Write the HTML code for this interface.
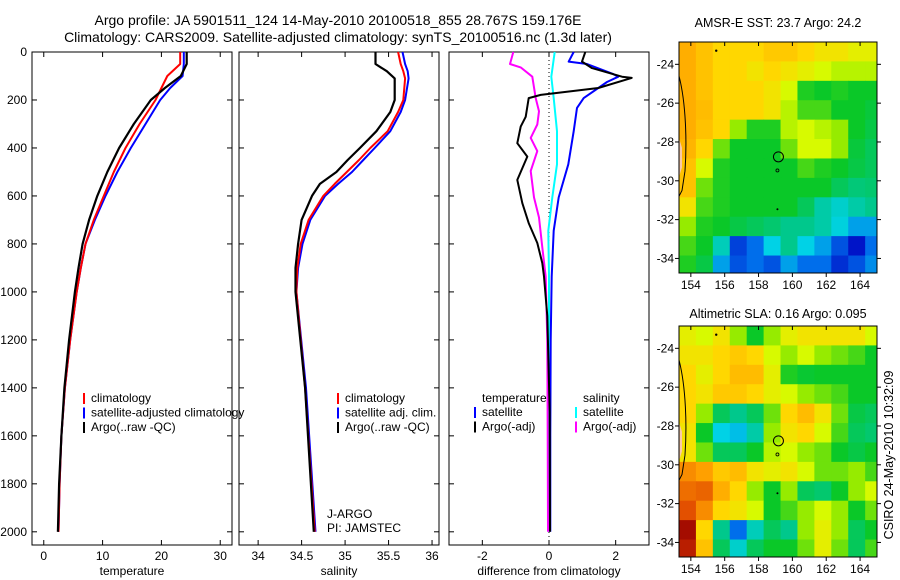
<!DOCTYPE html>
<html><head><meta charset="utf-8"><style>
html,body{margin:0;padding:0;background:#fff;}
svg{display:block;font-family:"Liberation Sans",sans-serif;}
</style></head><body>
<svg id="fig" width="900" height="580" viewBox="0 0 900 580" xmlns="http://www.w3.org/2000/svg">
<text x="338" y="25" font-size="14" text-anchor="middle">Argo profile: JA 5901511_124 14-May-2010 20100518_855 28.767S 159.176E</text>
<text x="338" y="42" font-size="14" text-anchor="middle">Climatology: CARS2009. Satellite-adjusted climatology: synTS_20100516.nc (1.3d later)</text>
<text x="778" y="27" font-size="12.5" text-anchor="middle">AMSR-E SST: 23.7 Argo: 24.2</text>
<text x="778" y="318" font-size="12.5" text-anchor="middle">Altimetric SLA: 0.16 Argo: 0.095</text>
<text transform="translate(893,455) rotate(-90)" font-size="12.5" text-anchor="middle">CSIRO 24-May-2010 10:32:09</text>
<g id="layer"></g>
</svg>
<script>
// ---- profile data (depth in dbar) ----
const tDepth = [0,50,100,150,200,300,400,500,600,700,800,900,1000,1200,1400,1600,1800,2000];
const tClim  = [23.2,23.2,21.0,20.0,19.0,16.3,13.9,11.9,10.2,8.5,7.1,6.3,5.6,4.5,3.6,3.0,2.7,2.5];
const tSat   = [23.8,23.8,23.6,21.5,19.8,17.3,14.8,12.5,10.5,8.7,7.1,6.3,5.6,4.5,3.6,3.0,2.7,2.5];
const tArgo  = [24.3,24.3,23.3,20.6,18.2,15.3,12.8,10.8,9.1,7.7,6.6,5.9,5.3,4.3,3.5,3.0,2.6,2.4];

const sDepth = [0,50,80,110,200,250,330,400,450,500,550,600,700,800,900,1000,1400,2000];
const sClim  = [35.61,35.64,35.67,35.69,35.67,35.61,35.49,35.29,35.16,35.02,34.88,34.75,34.58,34.49,34.45,34.44,34.54,34.65];
const sSat   = [35.66,35.69,35.72,35.73,35.69,35.64,35.52,35.34,35.21,35.08,34.92,34.77,34.60,34.51,34.46,34.44,34.55,34.66];
const sArgo  = [35.35,35.35,35.48,35.57,35.57,35.52,35.36,35.17,35.03,34.90,34.71,34.62,34.50,34.46,34.43,34.43,34.54,34.64];

const dTDepthA = [0,40,67,103,108,150,179,192,270,311,380,436,533,630,713,796,880,936,1100,1500,2000];
const dTArgo   = [1.09,0.99,1.29,2.19,2.48,1.48,-0.25,-0.61,-0.70,-0.85,-0.95,-0.65,-0.95,-0.80,-0.61,-0.35,-0.20,-0.15,-0.05,0.02,0.03];
const dTDepthS = [0,40,50,92,103,125,192,233,330,468,606,745,936,1200,1600,2000];
const dTSat    = [0.74,0.59,1.14,1.93,2.08,1.74,1.04,0.84,0.74,0.58,0.29,0.14,0.08,0.05,0.04,0.04];
const dSDepthA = [0,50,64,103,192,247,302,358,413,496,606,690,814,936,1200,1600,2000];
const dSArgo   = [-1.07,-1.17,-0.85,-0.50,-0.40,-0.30,-0.35,-0.55,-0.35,-0.55,-0.45,-0.30,-0.20,-0.10,-0.05,-0.04,-0.03];
const dSDepthS = [0,103,192,330,468,606,745,936,1200,2000];
const dSSat    = [0.17,0.07,0.14,0.24,0.24,0.10,-0.02,0.0,0.0,-0.01];

const depthTicks = [0,200,400,600,800,1000,1200,1400,1600,1800,2000];
const tTicks = [0,10,20,30];
const sTicks = [34,34.5,35,35.5,36];
const dTicks = [-2,0,2];

// ---- map data (colour-scale fraction 0..1), 1-degree cells, rows from north ----
const mapLonStart = 153.3;
const mapLatStart = -22.85;
const lonTicks = [154,156,158,160,162,164];
const latTicks = [-24,-26,-28,-30,-32,-34];
const sstGrid = [
[0.78,0.75,0.72,0.72,0.72,0.74,0.74,0.72,0.70,0.70,0.68,0.68],
[0.78,0.75,0.72,0.72,0.70,0.72,0.70,0.68,0.66,0.64,0.64,0.64],
[0.78,0.75,0.72,0.72,0.72,0.70,0.66,0.56,0.55,0.56,0.55,0.55],
[0.78,0.76,0.72,0.72,0.72,0.70,0.64,0.58,0.58,0.55,0.55,0.53],
[0.78,0.75,0.72,0.62,0.56,0.56,0.64,0.66,0.64,0.62,0.55,0.52],
[0.77,0.72,0.60,0.55,0.55,0.55,0.60,0.66,0.66,0.62,0.53,0.50],
[0.75,0.66,0.56,0.55,0.55,0.55,0.55,0.58,0.56,0.55,0.52,0.50],
[0.75,0.60,0.56,0.55,0.55,0.55,0.55,0.55,0.55,0.50,0.47,0.48],
[0.70,0.58,0.56,0.55,0.55,0.55,0.55,0.50,0.42,0.38,0.42,0.45],
[0.62,0.56,0.55,0.52,0.50,0.48,0.45,0.45,0.42,0.36,0.30,0.30],
[0.58,0.55,0.40,0.20,0.25,0.35,0.45,0.35,0.30,0.22,0.15,0.25],
[0.56,0.52,0.30,0.22,0.25,0.22,0.30,0.25,0.25,0.18,0.22,0.28]];
const slaGrid = [
[0.68,0.66,0.70,0.62,0.55,0.62,0.68,0.70,0.70,0.70,0.70,0.66],
[0.70,0.70,0.72,0.74,0.72,0.66,0.62,0.66,0.62,0.60,0.58,0.55],
[0.72,0.68,0.72,0.76,0.76,0.68,0.56,0.54,0.55,0.55,0.55,0.55],
[0.72,0.70,0.74,0.74,0.72,0.68,0.66,0.62,0.60,0.58,0.55,0.55],
[0.72,0.62,0.50,0.45,0.50,0.60,0.72,0.76,0.70,0.60,0.52,0.50],
[0.70,0.55,0.35,0.33,0.42,0.62,0.70,0.72,0.66,0.58,0.50,0.48],
[0.70,0.60,0.50,0.50,0.55,0.64,0.66,0.62,0.60,0.55,0.52,0.55],
[0.82,0.80,0.74,0.76,0.70,0.68,0.70,0.66,0.60,0.60,0.62,0.58],
[0.85,0.86,0.78,0.72,0.62,0.55,0.62,0.50,0.48,0.55,0.62,0.66],
[0.88,0.82,0.72,0.70,0.66,0.55,0.58,0.62,0.66,0.62,0.55,0.60],
[0.98,0.72,0.45,0.25,0.40,0.50,0.45,0.62,0.68,0.62,0.50,0.55],
[0.95,0.75,0.50,0.38,0.50,0.55,0.55,0.60,0.68,0.60,0.50,0.58]];
const argoLon = 159.176, argoLat = -28.767;

const NS="http://www.w3.org/2000/svg";
const layer=document.getElementById('layer');
function mk(tag,attrs,parent){const e=document.createElementNS(NS,tag);for(const k in attrs)e.setAttribute(k,attrs[k]);(parent||layer).appendChild(e);return e;}

const PT=52, PB=545;
const yD = d => PT + d*(PB-PT)/2055;

function panel(name,x0,x1,vmin,vmax,ticks,label,showY){
  const g=mk('g',{});
  
  
  const sx=v=>x0+(v-vmin)*(x1-x0)/(vmax-vmin);
  const box=mk('rect',{x:x0,y:PT,width:x1-x0,height:PB-PT,fill:'none',stroke:'#000','stroke-width':1},g);
  
  
  depthTicks.forEach(d=>{
    const y=yD(d);
    mk('line',{x1:x0,x2:x0+5,y1:y,y2:y,stroke:'#000'},g);
    mk('line',{x1:x1,x2:x1-5,y1:y,y2:y,stroke:'#000'},g);
    if(showY){const t=mk('text',{x:x0-5,y:y+4,'font-size':12,'text-anchor':'end'},g);t.textContent=d;
      
      }
  });
  ticks.forEach(v=>{
    const x=sx(v);
    mk('line',{x1:x,x2:x,y1:PB,y2:PB-5,stroke:'#000'},g);
    mk('line',{x1:x,x2:x,y1:PT,y2:PT+5,stroke:'#000'},g);
    const t=mk('text',{x:x,y:PB+15,'font-size':12,'text-anchor':'middle'},g);t.textContent=v;
    
    
  });
  const lt=mk('text',{x:(x0+x1)/2,y:PB+30,'font-size':12,'text-anchor':'middle'},g);lt.textContent=label;
  
  
  return {g,sx};
}
function line(p,depths,vals,color,w,name){
  const pts=depths.map((d,i)=>p.sx(vals[i]).toFixed(1)+','+yD(d).toFixed(1)).join(' ');
  const pl=mk('polyline',{points:pts,fill:'none',stroke:color,'stroke-width':w,'stroke-linejoin':'round'},p.g);
  
  
}
function legend(p,x,y,items){
  items.forEach((it,i)=>{
    const yy=y+i*14.5;
    mk('line',{x1:x,x2:x,y1:yy-9,y2:yy+2,stroke:it[1],'stroke-width':2},p.g);
    const t=mk('text',{x:x+7,y:yy,'font-size':12},p.g);t.textContent=it[0];
    
    
  });
}

const p1=panel('temperature-panel',32,232,-2,32,tTicks,'temperature',true);
line(p1,tDepth,tSat,'#0000ff',2,'temp-satellite-line');
line(p1,tDepth,tClim,'#ff0000',2,'temp-climatology-line');
line(p1,tDepth,tArgo,'#000',2.2,'temp-argo-line');
legend(p1,84,402,[['climatology','#f00'],['satellite-adjusted climatology','#00f'],['Argo(..raw -QC)','#000']]);

const p2=panel('salinity-panel',239,439,33.78,36.08,sTicks,'salinity',false);
line(p2,sDepth,sSat,'#0000ff',2,'sal-satellite-line');
line(p2,sDepth,sClim,'#ff0000',2,'sal-climatology-line');
line(p2,sDepth,sArgo,'#000',2.2,'sal-argo-line');
legend(p2,338,402,[['climatology','#f00'],['satellite adj. clim.','#00f'],['Argo(..raw -QC)','#000']]);
const ja=mk('text',{x:327,y:518,'font-size':12},p2.g);ja.textContent='J-ARGO';


const pi=mk('text',{x:327,y:532,'font-size':12},p2.g);pi.textContent='PI: JAMSTEC';



const p3=panel('difference-panel',449,649,-3,3,dTicks,'difference from climatology',false);
mk('line',{x1:p3.sx(0),x2:p3.sx(0),y1:PT,y2:PB,stroke:'#000','stroke-dasharray':'1,3'},p3.g);
line(p3,dSDepthS,dSSat,'#00ffff',2,'sal-diff-satellite-line');
line(p3,dSDepthA,dSArgo,'#ff00ff',2,'sal-diff-argo-line');
line(p3,dTDepthS,dTSat,'#0000ff',2,'temp-diff-satellite-line');
line(p3,dTDepthA,dTArgo,'#000',2,'temp-diff-argo-line');
const th=mk('text',{x:482,y:402,'font-size':12},p3.g);th.textContent='temperature';


const sh=mk('text',{x:583,y:402,'font-size':12},p3.g);sh.textContent='salinity';


legend(p3,475,416,[['satellite','#00f'],['Argo(-adj)','#000']]);
legend(p3,576,416,[['satellite','#0ff'],['Argo(-adj)','#f0f']]);

// ---- maps ----
const cmapStops = [[0.0,[0,0,130]],[0.15,[0,20,200]],[0.25,[0,110,235]],[0.35,[0,210,230]],
  [0.45,[0,200,140]],[0.55,[10,200,40]],[0.62,[150,235,0]],[0.66,[215,250,0]],[0.72,[255,215,0]],
  [0.8,[255,160,0]],[0.9,[220,60,0]],[1.0,[150,0,0]]];
function cmap(v){
  v=Math.max(0,Math.min(1,v));
  for(let i=1;i<cmapStops.length;i++){
    if(v<=cmapStops[i][0]){
      const a=cmapStops[i-1],b=cmapStops[i],f=(v-a[0])/(b[0]-a[0]);
      return 'rgb('+a[1].map((c,k)=>Math.round(c+(b[1][k]-c)*f)).join(',')+')';
    }
  }
  return 'rgb(150,0,0)';
}
function map(name,grid,top){
  const L=679,R=877,T=top,B=top+231;
  const lonMax=165.0, latMin=-34.75;
  const mx=lon=>L+(lon-mapLonStart)*(R-L)/(lonMax-mapLonStart);
  const my=lat=>T+(mapLatStart-lat)*(B-T)/(mapLatStart-latMin);
  const g=mk('g',{});
  
  
  const cid='clip-'+name;
  const cp=mk('clipPath',{id:cid},g);mk('rect',{x:L,y:T,width:R-L,height:B-T},cp);
  const cg=mk('g',{'clip-path':'url(#'+cid+')'},g);
  grid.forEach((row,i)=>row.forEach((v,j)=>{
    const x=mx(mapLonStart+j), y=my(mapLatStart-i);
    const c=mk('rect',{x:x,y:y,width:mx(mapLonStart+j+1)-x+0.5,height:my(mapLatStart-i-1)-y+0.5,fill:cmap(v)},cg);
    
    
  }));
  mk('path',{d:'M'+L+','+(my(-24.6))+' C'+(L+7)+','+my(-26)+' '+(L+8)+','+my(-28)+' '+(L+6)+','+my(-29.5)+' L'+(L+3)+','+my(-30.5)+' L'+L+','+my(-30.8),fill:'none',stroke:'#000','stroke-width':1},cg);
  mk('path',{d:'M'+L+','+my(-27.8)+' L'+(L+3)+','+my(-28.3)+' L'+(L+3)+','+my(-29.3)+' L'+L+','+my(-29.8)+' Z',fill:'#f9c8a8'},cg);
  mk('rect',{x:L,y:T,width:R-L,height:B-T,fill:'none',stroke:'#000'},g);
  lonTicks.forEach(v=>{const x=mx(v);
    mk('line',{x1:x,x2:x,y1:T,y2:T+4,stroke:'#000'},g);
    mk('line',{x1:x,x2:x,y1:B,y2:B+4,stroke:'#000'},g);
    const t=mk('text',{x:x,y:B+16,'font-size':12,'text-anchor':'middle'},g);t.textContent=v;
    
    });
  latTicks.forEach(v=>{const y=my(v);
    mk('line',{x1:L-4,x2:L,y1:y,y2:y,stroke:'#000'},g);
    mk('line',{x1:R,x2:R+4,y1:y,y2:y,stroke:'#000'},g);
    const t=mk('text',{x:L-5,y:y+4,'font-size':12,'text-anchor':'end'},g);t.textContent=v;
    
    });
  const c=mk('circle',{cx:mx(argoLon),cy:my(argoLat),r:5,fill:'none',stroke:'#000','stroke-width':1},g);
  
  
  mk('circle',{cx:mx(argoLon)-1,cy:my(argoLat-0.7),r:1.5,fill:'none',stroke:'#000','stroke-width':0.8},g);
  mk('circle',{cx:mx(argoLon)-1,cy:my(argoLat-2.7),r:1,fill:'#000'},g);
  mk('circle',{cx:mx(155.5),cy:my(-23.3),r:1.2,fill:'#000'},g);
}
map('sst-map',sstGrid,42);
map('sla-map',slaGrid,326);
</script>
</body></html>
